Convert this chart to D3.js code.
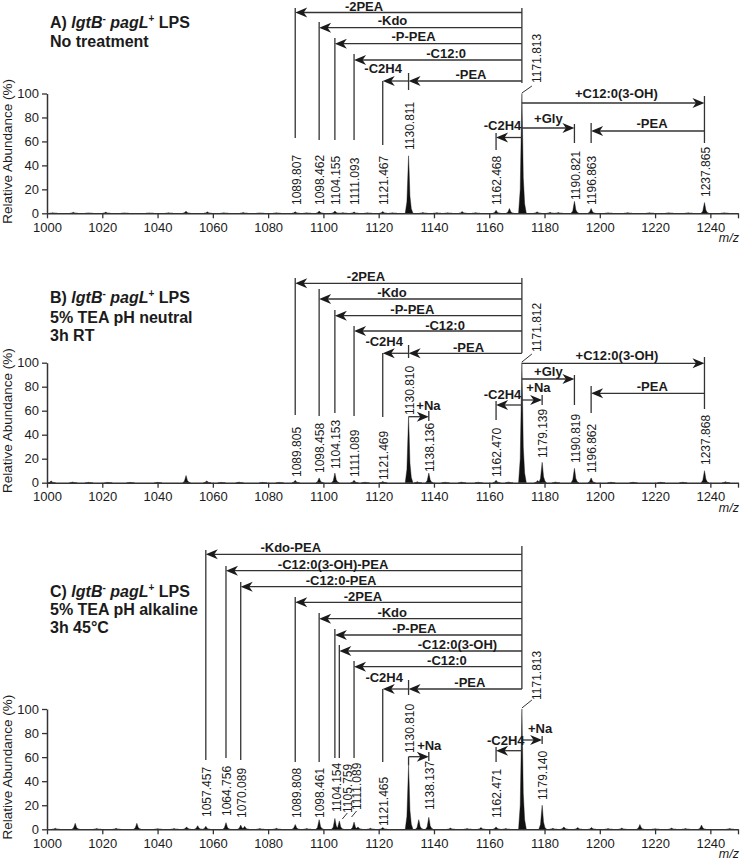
<!DOCTYPE html>
<html><head><meta charset="utf-8">
<script src="https://cdn.jsdelivr.net/npm/d3@7"></script>
<style>
body{margin:0;background:#fff;}
svg{display:block;font-family:Arial,"Liberation Sans",Helvetica,sans-serif;}
</style></head><body>
<svg id="chart" width="745" height="860"></svg>
<script>
// ---------------- DATA ----------------
const xDomain = [1000, 1250];
const xTickValues = [1000,1020,1040,1060,1080,1100,1120,1140,1160,1180,1200,1220,1240,1250];
const yTickValues = [0,20,40,60,80,100];
const yAxisTitle = "Relative Abundance (%)";
const xAxisTitle = "m/z";

const panelLetters = ["A","B","C"];
const subtitles = [["No treatment"],["5% TEA pH neutral","3h RT"],["5% TEA pH alkaline","3h 45°C"]];

// peaks: [m/z, relative abundance %]
const peaksA = [[1002.1,0.4],[1009.5,0.8],[1015,0.3],[1021.3,1.0],[1028,0.3],[1037,0.3],[1044,0.4],[1050.3,1.8],[1058.0,1.2],[1064,0.4],[1071.0,0.7],[1077,0.3],[1083,0.4],[1089.807,1.3],[1094,0.4],[1098.462,1.9],[1104.155,1.9],[1107,0.5],[1111.093,1.1],[1116,0.4],[1121.467,1.5],[1125,0.4],[1130.811,48],[1136,0.6],[1141,0.5],[1145,0.4],[1150.2,1.5],[1155,0.5],[1162.468,2.5],[1167.3,4],[1171.813,100],[1177.3,1.2],[1182,0.8],[1185,0.6],[1190.821,10],[1196.863,4],[1203,0.4],[1210,0.5],[1218,0.4],[1225,0.4],[1232,0.4],[1237.865,9],[1245,0.4]];
const peaksB = [[1001.5,1.5],[1009.3,0.6],[1015,0.3],[1022,0.3],[1030,0.3],[1040,0.3],[1050.3,6],[1057.8,1.5],[1063,0.3],[1069.5,0.5],[1078,0.3],[1084,0.3],[1089.805,2],[1098.458,4],[1104.153,8],[1111.089,2],[1115,0.4],[1121.469,1],[1130.810,55],[1134,0.8],[1138.136,8],[1144,0.4],[1150,0.5],[1156,0.4],[1162.470,2],[1167,0.6],[1171.812,100],[1177.5,1.8],[1179.139,17],[1184,0.6],[1190.819,12],[1196.862,4],[1204,0.4],[1212,0.4],[1222,0.4],[1230,0.4],[1237.868,10],[1245.5,0.8]];
const peaksC = [[1003,0.8],[1010.2,5],[1018,0.6],[1025,0.8],[1032.5,5],[1040,0.5],[1046,0.6],[1050.5,2],[1054.5,3],[1057.457,2.5],[1064.756,5.5],[1070.089,3.5],[1071.5,2.5],[1077,0.6],[1083,0.8],[1089.808,4],[1094,0.6],[1098.461,8],[1104.154,9],[1105.759,7],[1111.089,6],[1112.5,2],[1117,0.8],[1121.465,1.5],[1130.810,53],[1134.5,8],[1138.137,10],[1146,1],[1152,0.6],[1157,1.5],[1162.471,2],[1166,0.6],[1171.813,100],[1179.140,20],[1183,0.8],[1187,2],[1192,1.5],[1197,1.5],[1203,0.6],[1208,1],[1214.5,4],[1220,0.5],[1226,1],[1231,0.6],[1236.8,3.5],[1247,0.6]];

// labelled peaks (m/z)
const labelsA = [1089.807,1098.462,1104.155,1111.093,1121.467,1130.811,1162.468,1171.813,1190.821,1196.863,1237.865];
const labelsB = [1089.805,1098.458,1104.153,1111.089,1121.469,1130.810,1138.136,1162.470,1171.812,1179.139,1190.819,1196.862,1237.868];
const labelsC = [1057.457,1064.756,1070.089,1089.808,1098.461,1104.154,1105.759,1111.089,1121.465,1130.810,1138.137,1162.471,1171.813,1179.140];

// mass differences: [from m/z, to m/z, name]
const lossesA = [[1171.813,1089.807,"-2PEA"],[1171.813,1098.462,"-Kdo"],[1171.813,1104.155,"-P-PEA"],[1171.813,1111.093,"-C12:0"],[1171.813,1130.811,"-PEA"],[1130.811,1121.467,"-C2H4"],[1171.813,1237.865,"+C12:0(3-OH)"],[1171.813,1190.821,"+Gly"],[1171.813,1162.468,"-C2H4"],[1237.865,1196.863,"-PEA"]];
const lossesB = [[1171.812,1089.805,"-2PEA"],[1171.812,1098.458,"-Kdo"],[1171.812,1104.153,"-P-PEA"],[1171.812,1111.089,"-C12:0"],[1171.812,1130.810,"-PEA"],[1130.810,1121.469,"-C2H4"],[1171.812,1237.868,"+C12:0(3-OH)"],[1171.812,1190.819,"+Gly"],[1171.812,1179.139,"+Na"],[1171.812,1162.470,"-C2H4"],[1237.868,1196.862,"-PEA"],[1130.810,1138.136,"+Na"]];
const lossesC = [[1171.813,1057.457,"-Kdo-PEA"],[1171.813,1064.756,"-C12:0(3-OH)-PEA"],[1171.813,1070.089,"-C12:0-PEA"],[1171.813,1089.808,"-2PEA"],[1171.813,1098.461,"-Kdo"],[1171.813,1104.154,"-P-PEA"],[1171.813,1105.759,"-C12:0(3-OH)"],[1171.813,1111.089,"-C12:0"],[1171.813,1130.810,"-PEA"],[1130.810,1121.465,"-C2H4"],[1171.813,1179.140,"+Na"],[1171.813,1162.471,"-C2H4"],[1130.810,1138.137,"+Na"]];

// ---------------- LAYOUT (pixels) ----------------
const layoutA = {top:93.5, bottom:213.3, titleY:[27.7,46.7],
  // per label: [lineTop, lineBottom, labelBottom, dx, leader?]
  lab:[[8,138,205,1],[22,140,205,1],[38,140,205,1],[54,140,205,1],[81,145,205,1],[73,90,150,1],[133,150,205,1],[8,83,83,15,[93,86]],[124,143,200,1],[123,143,205,1],[96,143,197,1]],
  // per loss: [rowY, labelMz, labelBaseline, connector]
  row:[[12.5,1114.7,11],[27.7,1125,25.3],[43.7,1132.6,41.3],[60,1144.4,57.5],[81,1153.4,79],[81,1121.6,73],[103,1206,98],[128,1181.4,123],[137.5,1164.8,130],[131,1218.9,128]]};
const layoutB = {top:362.7, bottom:482.7, titleY:[303,322.5,341],
  lab:[[278,415,477,1],[289,416,473,1],[310,413,469,1],[326,416,477,1],[353,417,480,1],[345,358,415,1],[411,421,472,1],[401,420,477,1],[278,353,352,15,[362,354]],[395,405,458,1],[375,405,463,1],[386,413,473,1],[357,409,465,1]],
  row:[[283.3,1115.4,281],[299,1124.8,297],[315.7,1132.2,313.5],[331,1144.0,329.5],[353.3,1152.5,351.5],[353.3,1122,346],[363.3,1206.2,359.5],[379,1181.4,375.5],[400,1177.8,392],[405,1164.8,398.5],[393.3,1219,391],[416.7,1138.0,410]]};
const layoutC = {top:709, bottom:829.3, titleY:[596.7,615,633.3],
  lab:[[550,760,817,1],[566,758,816,1],[582,760,818,1],[597,762,818,1],[613,762,818,1],[629,758,812,1.5,null],[645,758,813,8,[819,813,5]],[661,758,810,2.5,[817,811,5]],[689,762,826,1],[680,695,753,1],[752,761,810,1],[747,762,818,1],[546,689,700,15,[708,700]],[736,744,800,1]],
  row:[[554.3,1088.2,552],[570.7,1103.5,568.5],[586.7,1106.4,584.5],[602.3,1114.3,600.5],[618.7,1124.9,616.5],[635,1132.9,633],[651,1148.5,649],[666.7,1144.7,665],[689,1153,687],[689,1122,682],[740,1178.4,733],[750.7,1166,745],[756.7,1138.3,750,true]]};

const panels = [
  {peaks:peaksA, labels:labelsA, losses:lossesA, lay:layoutA},
  {peaks:peaksB, labels:labelsB, losses:lossesB, lay:layoutB},
  {peaks:peaksC, labels:labelsC, losses:lossesC, lay:layoutC}
];

// ---------------- DRAW ----------------
const svg = d3.select("#chart");
const ink = "#1b1b1b", lineCol = "#333";
const peakShape = [[-1.2,0],[-0.6,0.2],[-0.3,0.6],[0,1],[0.2,0.75],[0.5,0.3],[1.0,0.08],[1.6,0]];

panels.forEach((p,i) => {
  const L = p.lay;
  const x = d3.scaleLinear().domain(xDomain).range([47, 738]);
  const y = d3.scaleLinear().domain([0,100]).range([L.bottom, L.top]);
  const g = svg.append("g");

  // title
  const t = g.append("text").attr("x",50).attr("y",L.titleY[0]).attr("font-size",16).attr("font-weight","bold").attr("fill",ink);
  t.append("tspan").text(panelLetters[i] + ") ");
  t.append("tspan").attr("font-style","italic").text("lgtB");
  t.append("tspan").attr("font-size",10).attr("dy",-6).text("-");
  t.append("tspan").attr("dy",6).text(" ");
  t.append("tspan").attr("font-style","italic").text("pagL");
  t.append("tspan").attr("font-size",10).attr("dy",-6).text("+");
  t.append("tspan").attr("dy",6).text(" LPS");
  subtitles[i].forEach((s,k) => {
    g.append("text").attr("x",50).attr("y",L.titleY[k+1]).attr("font-size",16).attr("font-weight","bold").attr("fill",ink).text(s);
  });

  // peaks
  const line = d3.line().x(d=>x(d[0])).y(d=>y(d[1]));
  g.append("g").selectAll("path").data(p.peaks).join("path")
    .attr("d", d => line(peakShape.map(s => [d[0]+s[0], d[1]*s[1]])) + "Z")
    .attr("fill","#111").attr("stroke","#111").attr("stroke-width",0.4);

  // axes
  const xa = g.append("g").attr("transform",`translate(0,${L.bottom})`)
    .call(d3.axisBottom(x).tickValues(xTickValues).tickFormat(d => d===1250 ? "" : d).tickSize(5).tickSizeOuter(0).tickPadding(4));
  const ya = g.append("g").attr("transform",`translate(47,0)`)
    .call(d3.axisLeft(y).tickValues(yTickValues).tickSize(5).tickSizeOuter(0).tickPadding(3));
  [xa,ya].forEach(a => {
    a.select(".domain").attr("stroke",lineCol).attr("stroke-width",1.5);
    a.selectAll(".tick line").attr("stroke",lineCol).attr("stroke-width",1.3);
    a.selectAll(".tick text").attr("font-size",13).attr("fill",ink).attr("font-family",null);
  });
  g.append("text").attr("transform",`translate(12,${(L.top+L.bottom)/2 - 2}) rotate(-90)`)
    .attr("text-anchor","middle").attr("font-size",13.5).attr("fill",ink).text(yAxisTitle);
  g.append("text").attr("x",739).attr("y",L.bottom+29).attr("text-anchor","end")
    .attr("font-size",12.5).attr("font-style","italic").attr("fill",ink).text(xAxisTitle);

  // annotation vertical lines + rotated labels
  p.labels.forEach((mz,k) => {
    const [lt, lb, bb, dx, leader] = L.lab[k];
    const px = x(mz);
    g.append("line").attr("x1",px).attr("x2",px).attr("y1",lt).attr("y2",lb)
      .attr("stroke",lineCol).attr("stroke-width",1.3);
    g.append("text").attr("transform",`translate(${px+dx},${bb}) rotate(-90)`)
      .attr("dy","0.36em").attr("font-size",12).attr("fill",ink).text(mz.toFixed(3));
    if (leader) {
      const w = leader[2] || 10;
      const x0 = leader[2] ? px + dx - w : px;
      g.append("line").attr("x1",x0).attr("x2",x0 + w).attr("y1",leader[0]).attr("y2",leader[1])
        .attr("stroke",lineCol).attr("stroke-width",1);
    }
  });

  // arrows
  p.losses.forEach((d,k) => {
    const [ry, lmz, lby, conn] = L.row[k];
    const x0 = x(d[0]), x1 = x(d[1]);
    const dir = Math.sign(x1 - x0);
    g.append("line").attr("x1",x0).attr("x2",x1 - dir*6).attr("y1",ry).attr("y2",ry)
      .attr("stroke",lineCol).attr("stroke-width",1.3);
    g.append("path").attr("d",`M${x1},${ry}L${x1-dir*12},${ry-5}L${x1-dir*8.5},${ry}L${x1-dir*12},${ry+5}Z`)
      .attr("fill",ink);
    if (conn) {
      const pk = p.peaks.find(q => Math.abs(q[0]-d[0])<0.01);
      g.append("line").attr("x1",x0).attr("x2",x0).attr("y1",ry).attr("y2",y(pk[1]))
        .attr("stroke",lineCol).attr("stroke-width",1.3);
    }
    g.append("text").attr("x",x(lmz)).attr("y",lby).attr("text-anchor","middle")
      .attr("font-size",13).attr("font-weight","bold").attr("fill",ink).text(d[2]);
  });
});
</script></body></html>
